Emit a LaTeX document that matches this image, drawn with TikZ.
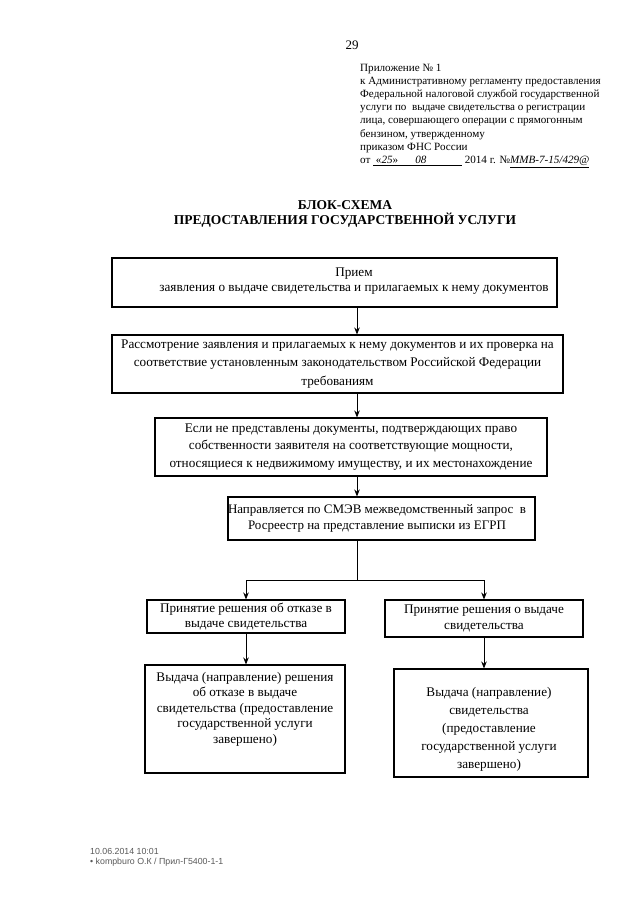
\documentclass[tikz,border=0pt]{standalone}
\usepackage{fontspec}
\setmainfont{Liberation Serif}
\newfontfamily\footfont{Liberation Sans}
\usetikzlibrary{arrows.meta}
\begin{document}
\begin{tikzpicture}[x=1pt,y=-1pt,
  box/.style={draw, line width=1.1pt, inner sep=0pt, align=center,
    font=\fontsize{13.2}{18.5}\selectfont},
  txt/.style={inner sep=0pt, align=center, font=\fontsize{13.2}{15.5}\selectfont},
  arr/.style={line width=0.9pt, -{Stealth[length=7pt,width=5.5pt]}},
  ln/.style={line width=0.9pt}]
\useasboundingbox (0,0) rectangle (640,905);
\fill[white] (0,0) rectangle (640,905);
% page number
\node[inner sep=0pt, font=\fontsize{13}{15}\selectfont] (pg) at (352,45) {29};
% header
\node[inner sep=0pt, align=left, anchor=north west, font=\fontsize{11.1}{13.1}\selectfont] (hdr) at (360,64)
 {Приложение № 1\\
  к Административному регламенту предоставления\\
  Федеральной налоговой службой государственной\\
  услуги по \ выдаче свидетельства о регистрации\\
  лица, совершающего операции с прямогонным\\
  бензином, утвержденному\\
  приказом ФНС России\\
  от \underline{~«\textit{25}»~}\underline{\hspace{1.3em}\textit{08}\hspace{3.2em}} 2014 г. №\underline{\textit{ММВ-7-15/429@}}};
% title
\node[inner sep=0pt, align=center, font=\bfseries\fontsize{13.5}{15.5}\selectfont] (title) at (345,214)
 {БЛОК-СХЕМА\\ПРЕДОСТАВЛЕНИЯ ГОСУДАРСТВЕННОЙ УСЛУГИ};
% boxes
\node[box, minimum width=445, minimum height=49] (b1) at (334.5,282.5) {};
\node[txt, font=\fontsize{13.2}{14.5}\selectfont] (b1t) at (354,281)
 {Прием\\заявления о выдаче свидетельства и прилагаемых к нему документов};
\node[box, minimum width=451, minimum height=58] (b2) at (337.5,364)
 {Рассмотрение заявления и прилагаемых к нему документов и их проверка на\\
  соответствие установленным законодательством Российской Федерации\\
  требованиям};
\node[box, minimum width=392, minimum height=58, font=\fontsize{13.2}{17.5}\selectfont] (b3) at (351,447)
 {Если не представлены документы, подтверждающих право\\
  собственности заявителя на соответствующие мощности,\\
  относящиеся к недвижимому имуществу, и их местонахождение};
\node[box, minimum width=307, minimum height=43] (b4) at (381.5,518.5) {};
\node[txt, font=\fontsize{13}{16}\selectfont] (b4t) at (377,518)
 {Направляется по СМЭВ межведомственный запрос \ в\\
  Росреестр на представление выписки из ЕГРП};
\node[box, minimum width=198, minimum height=33, font=\fontsize{13.2}{15.5}\selectfont] (b5) at (246,616.5)
 {Принятие решения об отказе в\\выдаче свидетельства};
\node[box, minimum width=198, minimum height=37, font=\fontsize{13.2}{15.5}\selectfont] (b6) at (484,618.5)
 {Принятие решения о выдаче\\свидетельства};
\node[box, minimum width=200, minimum height=108] (b7) at (245,719) {};
\node[txt] (b7t) at (245,709)
 {Выдача (направление) решения\\об отказе в выдаче\\свидетельства (предоставление\\государственной услуги\\завершено)};
\node[box, minimum width=194, minimum height=108] (b8) at (491,723) {};
\node[txt, font=\fontsize{13.2}{18}\selectfont] (b8t) at (489,729)
 {Выдача (направление)\\свидетельства\\(предоставление\\государственной услуги\\завершено)};
% connectors
\coordinate (cx) at (357,0);
\coordinate (split) at (357,580);
\draw[arr] (b1.south -| cx) -- (b2.north -| cx);
\draw[arr] (b2.south -| cx) -- (b3.north -| cx);
\draw[arr] (b3.south -| cx) -- (b4.north -| cx);
\draw[ln] (b4.south -| cx) -- (split);
\draw[arr] (split) -| (b5.north);
\draw[arr] (split) -| (b6.north);
\draw[arr] (b5.south) -- (b7.north -| b5.south);
\draw[arr] (b6.south) -- (b8.north -| b6.south);
% footer
\node[inner sep=0pt, anchor=north west, align=left, text=black!65,
  font=\footfont\fontsize{8.8}{10.5}\selectfont] (foot) at (90,848)
 {10.06.2014 10:01\\ \textbullet\ kompburo О.К / Прил-Г5400-1-1};
\end{tikzpicture}
\end{document}
